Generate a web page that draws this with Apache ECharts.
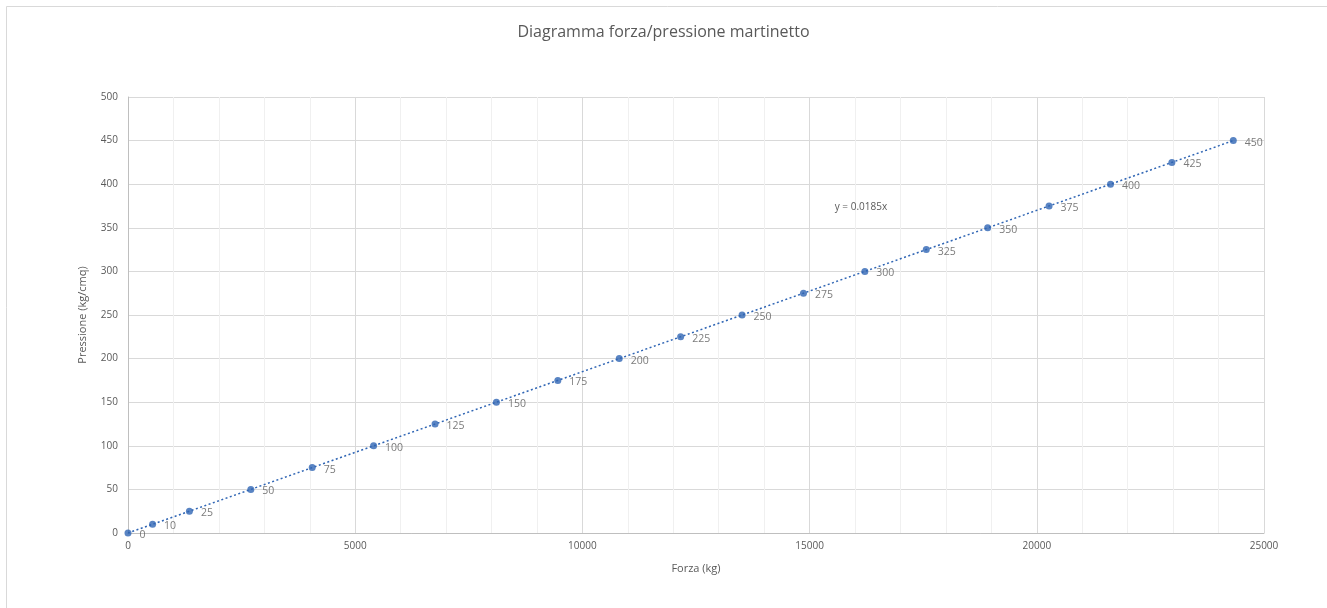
<!DOCTYPE html>
<html>
<head>
<meta charset="utf-8">
<script src="https://cdn.jsdelivr.net/npm/echarts@6/dist/echarts.min.js"></script>
<style>html,body{margin:0;padding:0;background:#fff}#c{width:1327px;height:608px}</style>
</head>
<body>
<div id="c"></div>
<script>
const forza = [0, 541, 1351, 2703, 4054, 5405, 6757, 8108, 9459, 10811, 12162, 13514, 14865, 16216, 17568, 18919, 20270, 21622, 22973, 24324];
const pressione = [0, 10, 25, 50, 75, 100, 125, 150, 175, 200, 225, 250, 275, 300, 325, 350, 375, 400, 425, 450];
const trendSlope = 0.0185;
const equationText = 'y = 0.0185x';
const titleText = 'Diagramma forza/pressione martinetto';
const xName = 'Forza (kg)';
const yName = 'Pressione (kg/cmq)';

const points = forza.map((f, i) => [f, pressione[i]]);
const xMaxData = forza[forza.length - 1];
const trend = [[0, 0], [xMaxData, trendSlope * xMaxData]];

const FONT = 'Open Sans, Liberation Sans, sans-serif';
const TXT = '#595959';
const BLUE = '#2f65b4';

const chart = echarts.init(document.getElementById('c'), null, {renderer: 'canvas'});
chart.setOption({
  animation: false,
  backgroundColor: '#fff',
  textStyle: {fontFamily: FONT},
  graphic: [{
    type: 'rect', left: 4, top: 4, silent: true,
    shape: {width: 1330, height: 610},
    style: {fill: 'none', stroke: '#d9d9d9', lineWidth: 1}
  }],
  title: {
    text: titleText, left: 'center', top: 19,
    textStyle: {fontFamily: FONT, fontSize: 16, fontWeight: 'normal', color: TXT}
  },
  grid: {left: 128, right: 63, top: 97, bottom: 75, containLabel: false},
  xAxis: {
    type: 'value', min: 0, max: 25000, interval: 5000,
    name: xName, nameLocation: 'middle', nameGap: 30,
    nameTextStyle: {fontFamily: FONT, fontSize: 11, color: TXT},
    axisLine: {show: true, lineStyle: {color: '#bfbfbf'}},
    axisTick: {show: false},
    axisLabel: {fontFamily: FONT, fontSize: 10, color: TXT, margin: 8, formatter: v => String(v)},
    splitLine: {show: true, lineStyle: {color: '#d9d9d9', width: 1}},
    minorTick: {show: false, splitNumber: 5},
    minorSplitLine: {show: true, lineStyle: {color: '#f0f0f0', width: 1}}
  },
  yAxis: {
    type: 'value', min: 0, max: 500, interval: 50,
    name: yName, nameLocation: 'middle', nameGap: 40, nameRotate: 90,
    nameTextStyle: {fontFamily: FONT, fontSize: 11, color: TXT},
    axisLine: {show: true, lineStyle: {color: '#bfbfbf'}},
    axisTick: {show: false},
    axisLabel: {fontFamily: FONT, fontSize: 10, color: TXT, margin: 10, formatter: v => String(v)},
    splitLine: {show: true, lineStyle: {color: '#d9d9d9', width: 1}}
  },
  series: [
    {
      type: 'line', data: trend, symbol: 'none', silent: true, z: 2,
      lineStyle: {color: BLUE, width: 1.5, type: [2, 2.5]},
      markPoint: {
        symbol: 'circle', symbolSize: 0,
        data: [{coord: [16130, 374]}],
        label: {show: true, formatter: equationText, fontFamily: FONT, fontSize: 10, color: TXT, position: 'inside'}
      }
    },
    {
      type: 'scatter', data: points, symbol: 'circle', symbolSize: 7, z: 3,
      itemStyle: {color: BLUE},
      label: {
        show: true, position: 'right', distance: 8,
        formatter: p => String(p.value[1]),
        fontFamily: FONT, fontSize: 10.5, color: TXT, offset: [0, 2]
      }
    }
  ]
});
</script>
</body>
</html>
